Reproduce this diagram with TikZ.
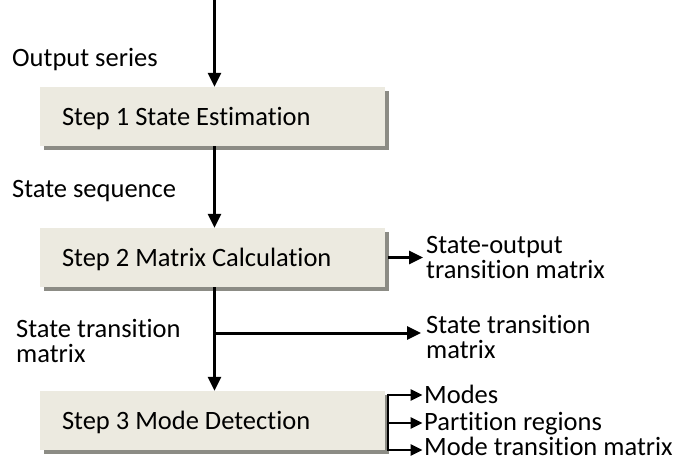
\documentclass[tikz,border=0pt]{standalone}
\usepackage{fontspec}
\setmainfont[Ligatures=NoCommon]{Carlito}
\usetikzlibrary{arrows.meta,shadows}
\definecolor{boxface}{RGB}{236,234,224}
\definecolor{boxshade}{RGB}{140,140,133}
\begin{document}
\begin{tikzpicture}[x=1pt,y=-1pt,
  font=\fontsize{26.5}{24}\selectfont,
  stepbox/.style={draw=none, fill=boxface,
    drop shadow={shadow xshift=4pt,shadow yshift=-4pt,fill=boxshade,opacity=1},
    minimum width=345pt, minimum height=59pt, text width=301pt,
    inner xsep=22pt, inner ysep=0pt, align=flush left,
    text height=18pt, text depth=0pt},
  lbl/.style={inner sep=0pt, anchor=base west},
  flow/.style={line width=3pt, -{Triangle[length=14pt,width=13pt]}},
  outarrow/.style={line width=2.6pt, -{Triangle[length=12pt,width=11pt]}, shorten >=1.5pt},
  link/.style={line width=2.6pt}
]
\useasboundingbox (0,0) rectangle (679,462);

% processing steps
\node[stepbox] (s1) at (212.5,116.5) {Step 1 State Estimation};
\node[stepbox] (s2) at (212.5,257.5) {Step 2 Matrix Calculation};
\node[stepbox] (s3) at (212.5,420.5) {Step 3 Mode Detection};

% labels on the left of the main flow
\node[lbl] (lout) at (12,67) {Output series};
\node[lbl] (lseq) at (12,198) {State sequence};
\node[lbl] (ltrans) at (16,337) {\begin{tabular}[t]{@{}l@{}}State transition\\matrix\end{tabular}};

% results on the right
\node[lbl] (sout) at (426,253) {\begin{tabular}[t]{@{}l@{}}State-output\\transition matrix\end{tabular}};
\node[lbl] (stm) at (426,333) {\begin{tabular}[t]{@{}l@{}}State transition\\matrix\end{tabular}};
\node[lbl] (modes) at (424,403) {Modes};
\node[lbl] (parts) at (424,430) {Partition regions};
\node[lbl] (mtm) at (424,455) {Mode transition matrix};

% main flow
\coordinate (top) at (214.5,0);
\coordinate (split) at (214.5,333);
\draw[flow] (top) -- (top |- s1.north);
\draw[flow] (top |- s1.south) -- (top |- s2.north);
\draw[flow] (top |- s2.south) -- (top |- s3.north);
\draw[flow, shorten >=5pt] (split) -- (split -| stm.west);
\draw[flow, shorten >=3pt] ([xshift=3pt]s2.east) -- (s2.east -| sout.west);

% outputs of step 3
\coordinate (f1) at (388,395);
\coordinate (f2) at (388,423);
\coordinate (f3) at (388,450);
\draw[link] ([yshift=1.3pt]f1) -- ([yshift=-1.3pt]f3);
\draw[outarrow] (f1) -- (f1 -| modes.west);
\draw[outarrow] (f2) -- (f2 -| parts.west);
\draw[outarrow] (f3) -- (f3 -| mtm.west);
\end{tikzpicture}
\end{document}
